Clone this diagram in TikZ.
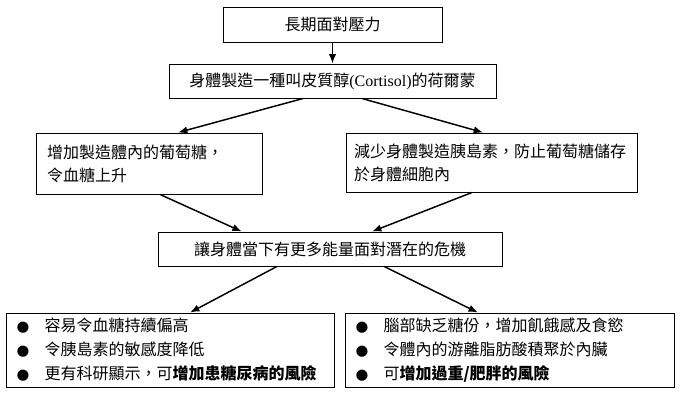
\documentclass[tikz,border=0pt]{standalone}
\usepackage{fontspec}
\setmainfont{Liberation Serif}
\newfontfamily\cjk{Noto Sans CJK TC}
\newfontfamily\symf{DejaVu Sans}
\usetikzlibrary{arrows.meta,calc}
\newcommand{\bul}{\makebox[21pt][l]{\symf\fontsize{11pt}{11pt}\selectfont ●}}
\begin{document}
\begin{tikzpicture}[x=0.75pt,y=-0.75pt,
  box/.style={draw, line width=0.75pt, inner sep=0pt, font=\cjk\fontsize{12pt}{17.25pt}\selectfont},
  listbox/.style={box, align=left, inner xsep=7.9pt, font=\cjk\fontsize{12pt}{18pt}\selectfont},
  arr/.style={line width=1.1pt, -{Latex[length=7pt,width=5.5pt]}}]
\useasboundingbox (0,0) rectangle (685,401);
\node[box, minimum width=164.25pt, minimum height=26.25pt] (b1) at (332.5,24.5) {長期面對壓力};
\node[box, minimum width=245.25pt, minimum height=25.5pt] (b2) at (332.5,81) {身體製造一種叫皮質醇{\rmfamily (Cortisol)}的荷爾蒙};
\node[box, minimum width=169.5pt, minimum height=45.75pt, text width=153pt, inner xsep=8.25pt, align=left] (b3) at (149,163.5) {增加製造體內的葡萄糖，\\令血糖上升};
\node[box, minimum width=218.25pt, minimum height=44.25pt, text width=206.25pt, inner xsep=6pt, align=left] (b4) at (491.5,162.5) {減少身體製造胰島素，防止葡萄糖儲存\\於身體細胞內};
\node[box, minimum width=258pt, minimum height=25.5pt] (b5) at (330,249) {讓身體當下有更多能量面對潛在的危機};
\node[listbox, minimum width=246pt, minimum height=55.5pt, text width=230.2pt] (b6) at (170,350) {\bul 容易令血糖持續偏高\\\bul 令胰島素的敏感度降低\\\bul 更有科研顯示，可\textbf{增加患糖尿病的風險}};
\node[listbox, minimum width=246.75pt, minimum height=55.5pt, text width=230.95pt] (b7) at (509.5,350) {\bul 腦部缺乏糖份，增加飢餓感及食慾\\\bul 令體內的游離脂肪酸積聚於內臟\\\bul 可\textbf{增加過重/肥胖的風險}};
\draw[arr] (b1.south) -- (b2.north);
\draw[arr] ($(b2.south west)!0.41!(b2.south east)$) -- ($(b3.north west)!0.628!(b3.north east)$);
\draw[arr] ($(b2.south west)!0.59!(b2.south east)$) -- ($(b4.north west)!0.471!(b4.north east)$);
\draw[arr] ($(b3.south west)!0.549!(b3.south east)$) -- ($(b5.north west)!0.244!(b5.north east)$);
\draw[arr] ($(b4.south west)!0.433!(b4.south east)$) -- ($(b5.north west)!0.622!(b5.north east)$);
\draw[arr] ($(b5.south west)!0.346!(b5.south east)$) -- ($(b6.north west)!0.561!(b6.north east)$);
\draw[arr] ($(b5.south west)!0.657!(b5.south east)$) -- ($(b7.north west)!0.404!(b7.north east)$);
\end{tikzpicture}
\end{document}
